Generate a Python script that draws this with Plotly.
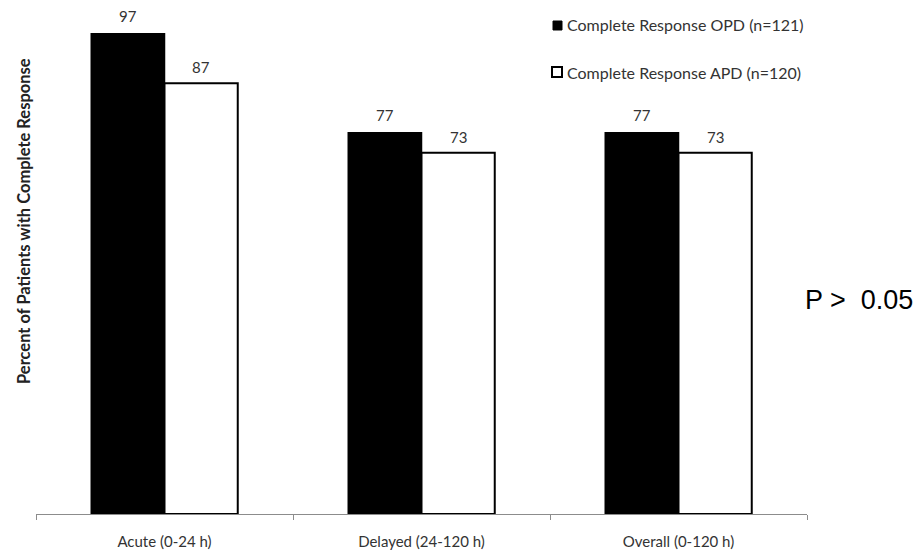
import plotly.graph_objects as go

categories = ["Acute (0-24 h)", "Delayed (24-120 h)", "Overall (0-120 h)"]
opd_values = [97, 77, 77]
apd_values = [87, 73, 73]
opd_name = "Complete Response OPD (n=121)"
apd_name = "Complete Response APD (n=120)"

FONT = "Lato, Open Sans, sans-serif"
TEXT_COLOR = "#333333"

# Plot area in pixels (used to place the free-standing labels in paper space)
W, H = 920, 558
L, R, T, B = 36, 113, 19, 44
PW, PH = W - L - R, H - T - B


def px(x):
    return (x - L) / PW


def py(y):
    return (H - B - y) / PH


fig = go.Figure()
fig.add_trace(go.Bar(
    x=categories, y=opd_values, name=opd_name,
    marker=dict(color="black", line=dict(color="black", width=1.5)),
))
fig.add_trace(go.Bar(
    x=categories, y=apd_values, name=apd_name,
    marker=dict(color="white", line=dict(color="black", width=2)),
))

fig.update_layout(
    width=W, height=H,
    margin=dict(l=L, r=R, t=T, b=B, autoexpand=False),
    plot_bgcolor="white", paper_bgcolor="white",
    barmode="group", bargap=0.43, bargroupgap=0,
    showlegend=False,
    font=dict(family=FONT, size=15, color=TEXT_COLOR),
    xaxis=dict(
        showline=True, linecolor="#8c8c8c", linewidth=1,
        ticks="outside", tickson="boundaries", ticklen=5, tickcolor="#8c8c8c",
        tickfont=dict(family=FONT, size=15, color=TEXT_COLOR),
        ticklabelstandoff=14, showgrid=False, automargin=False,
    ),
    yaxis=dict(range=[0, 100], visible=False, automargin=False),
)

# Value labels above each bar (half a bar width left/right of the category centre)
half = 36.5
for cat, v in zip(categories, opd_values):
    fig.add_annotation(x=cat, y=v, xshift=-half, yshift=7, yanchor="bottom",
                       text=str(v), showarrow=False,
                       font=dict(family=FONT, size=15, color=TEXT_COLOR))
for cat, v in zip(categories, apd_values):
    fig.add_annotation(x=cat, y=v, xshift=half, yshift=5, yanchor="bottom",
                       text=str(v), showarrow=False,
                       font=dict(family=FONT, size=15, color=TEXT_COLOR))

# Legend: swatches plus labels
fig.add_shape(type="rect", xref="paper", yref="paper",
              x0=px(553), x1=px(562), y0=py(30), y1=py(21),
              fillcolor="black", line=dict(color="black", width=1))
fig.add_shape(type="rect", xref="paper", yref="paper",
              x0=px(552), x1=px(562), y0=py(77), y1=py(67),
              fillcolor="white", line=dict(color="black", width=2))
fig.add_annotation(xref="paper", yref="paper", x=px(565), y=py(25),
                   xanchor="left", yanchor="middle", text=opd_name, showarrow=False,
                   font=dict(family=FONT, size=16, color=TEXT_COLOR))
fig.add_annotation(xref="paper", yref="paper", x=px(565), y=py(72),
                   xanchor="left", yanchor="middle", text=apd_name, showarrow=False,
                   font=dict(family=FONT, size=16, color=TEXT_COLOR))

# Y-axis title
fig.add_annotation(
    xref="paper", yref="paper", x=px(24), y=py(221), xanchor="center", yanchor="middle",
    text="<b>Percent of Patients with Complete Response</b>", textangle=-90,
    showarrow=False, font=dict(family=FONT, size=16.5, color="#222222"),
)

# Significance note
fig.add_annotation(
    xref="paper", yref="paper", x=px(803), y=py(300), xanchor="left", yanchor="middle",
    text="P >  0.05", showarrow=False,
    font=dict(family="Liberation Sans, Arial, sans-serif", size=27, color="black"),
)

fig.write_html("out.html")
